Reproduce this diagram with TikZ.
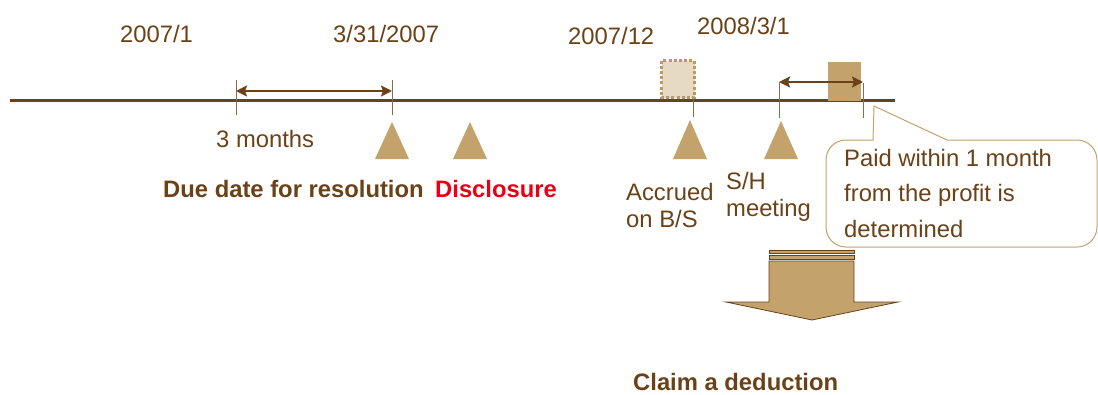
\documentclass[tikz,border=0pt]{standalone}
\usepackage{fontspec}
\setmainfont{Liberation Sans}
\usetikzlibrary{arrows.meta}
\definecolor{dbrown}{RGB}{107,66,24}
\definecolor{tan}{RGB}{196,162,108}
\definecolor{dtan}{RGB}{190,152,95}
\definecolor{ltan}{RGB}{230,218,196}
\definecolor{tickc}{RGB}{140,106,72}
\definecolor{cred}{RGB}{232,0,22}
\tikzset{
  lbl/.style={anchor=base west,inner sep=0pt,text=dbrown,font=\fontsize{23.8}{28}\selectfont},
  blbl/.style={lbl,font=\fontsize{23.8}{28}\selectfont\bfseries},
  tickline/.style={draw=tickc,line width=1pt},
  marker/.style={fill=tan,draw=none},
  span/.style={draw=dbrown,line width=2.6pt,{Stealth[length=11pt,width=11pt,inset=2pt]}-{Stealth[length=11pt,width=11pt,inset=2pt]}},
}
\begin{document}
\begin{tikzpicture}[x=1pt,y=1pt]
\useasboundingbox (0,0) rectangle (1098,-394);
% timeline
\coordinate (ls) at (10,-100);
\coordinate (le) at (895,-100);
\draw[dbrown,line width=3pt] (ls) -- (le);
% ticks
\coordinate (t1a) at (236,-80); \coordinate (t1b) at (236,-115);
\coordinate (t2a) at (392,-80); \coordinate (t2b) at (392,-115);
\coordinate (t3a) at (693,-99); \coordinate (t3b) at (693,-117);
\coordinate (t4a) at (779,-82); \coordinate (t4b) at (779,-118);
\coordinate (t5a) at (863,-83); \coordinate (t5b) at (863,-118);
\draw[tickline] (t1a) -- (t1b);
\draw[tickline] (t2a) -- (t2b);
\draw[tickline] (t4a) -- (t4b);
\draw[tickline] (t5a) -- (t5b);
% boxes
\draw[fill=ltan,draw=dtan,line width=3pt,dash pattern=on 3pt off 2.2pt] (661.5,-60.5) rectangle (694.5,-97.5);
\draw[tickline] (t3a) -- (t3b);
\fill[tan] (828,-62) rectangle (861,-101);
% spans
\coordinate (s1a) at (236,-91); \coordinate (s1b) at (392,-91);
\coordinate (s2a) at (779,-82); \coordinate (s2b) at (863,-82);
\draw[span] (s1a) -- (s1b);
\draw[span] (s2a) -- (s2b);
% triangles
\fill[marker] (392,-122) -- (409,-159) -- (375,-159) -- cycle;
\fill[marker] (470,-122) -- (487,-159) -- (453,-159) -- cycle;
\fill[marker] (690,-120) -- (707,-159) -- (673,-159) -- cycle;
\fill[marker] (781,-121) -- (798,-159) -- (764,-159) -- cycle;
% callout
\draw[draw=tan,line width=1pt,fill=white]
  (873,-140) -- (846,-140) arc[start angle=90,end angle=180,radius=20]
  -- (826,-227) arc[start angle=180,end angle=270,radius=20]
  -- (1077,-247) arc[start angle=270,end angle=360,radius=20]
  -- (1097,-160) arc[start angle=0,end angle=90,radius=20]
  -- (947,-140) -- (874,-106) -- cycle;
% down arrow
\draw[fill=tan,draw=dbrown,line width=0.8pt] (769,-250) rectangle (854,-253.5);
\draw[fill=tan,draw=dbrown,line width=0.8pt] (769,-255.5) rectangle (854,-259);
\draw[fill=tan,draw=dbrown,line width=0.8pt]
  (769,-261) -- (854,-261) -- (854,-302) -- (898,-302) -- (812,-320) -- (726,-302) -- (769,-302) -- cycle;
% labels
\node[lbl] (d1) at (120,-42) {2007/1};
\node[lbl] (d2) at (333,-42) {3/31/2007};
\node[lbl] (d3) at (568,-44) {2007/12};
\node[lbl] (d4) at (697,-34) {2008/3/1};
\node[lbl] (m3) at (216,-147) {3 months};
\node[blbl] (due) at (163,-197) {Due date for resolution};
\node[blbl,text=cred] (disc) at (435,-197) {Disclosure};
\node[lbl] (acc1) at (626,-200) {Accrued};
\node[lbl] (acc2) at (626,-227) {on B/S};
\node[lbl] (sh1) at (726,-189) {S/H};
\node[lbl] (sh2) at (726,-216) {meeting};
\node[lbl] (p1) at (844,-166) {Paid within 1 month};
\node[lbl] (p2) at (844,-201) {from the profit is};
\node[lbl] (p3) at (844,-237) {determined};
\node[blbl] (claim) at (633,-390) {Claim a deduction};
\end{tikzpicture}
\end{document}
